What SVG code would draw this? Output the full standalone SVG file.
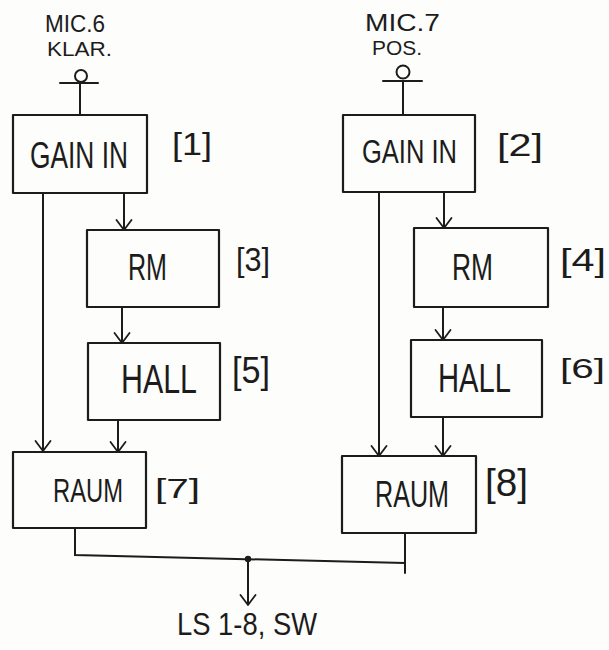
<svg xmlns="http://www.w3.org/2000/svg" width="609" height="650" viewBox="0 0 609 650">
  <style>
    .bg { fill: #fdfdfb; }
    .box { fill: none; stroke: #1c1c1c; stroke-width: 2.2; stroke-linejoin: round; }
    .ln { fill: none; stroke: #1c1c1c; stroke-width: 2; stroke-linecap: round; }
    .arr { fill: none; stroke: #1c1c1c; stroke-width: 2; marker-end: url(#ah); }
    .t { font-family: "Liberation Sans", Arial, sans-serif; fill: #1c1c1c; }
  </style>
  <defs>
    <marker id="ah" viewBox="-12 -9 14 18" refX="0" refY="0" markerWidth="14" markerHeight="18" markerUnits="userSpaceOnUse" orient="auto">
      <path d="M-10,-7.5 L0,0 L-10,7.5" fill="none" stroke="#1c1c1c" stroke-width="1.8" stroke-linecap="round" stroke-linejoin="round"/>
    </marker>
  </defs>
  <rect class="bg" x="0" y="0" width="609" height="650"/>

  <g id="mic6">
    <text class="t" x="45" y="32" font-size="24" textLength="60" lengthAdjust="spacingAndGlyphs">MIC.6</text>
    <text class="t" x="47" y="56" font-size="20" textLength="65" lengthAdjust="spacingAndGlyphs">KLAR.</text>
    <circle class="ln" cx="81" cy="76" r="6"/>
    <line class="ln" x1="60" y1="83" x2="98" y2="83"/>
    <line class="ln" x1="80" y1="83" x2="80" y2="115"/>
  </g>
  <g id="mic7">
    <text class="t" x="365" y="31" font-size="24" textLength="75" lengthAdjust="spacingAndGlyphs">MIC.7</text>
    <text class="t" x="372" y="55" font-size="20" textLength="50" lengthAdjust="spacingAndGlyphs">POS.</text>
    <circle class="ln" cx="403" cy="72" r="6.5"/>
    <line class="ln" x1="383" y1="81" x2="422" y2="81"/>
    <line class="ln" x1="403" y1="81" x2="403" y2="115"/>
  </g>

  <g id="gain1">
    <rect class="box" x="13" y="115" width="134" height="78"/>
    <text class="t" x="30" y="168" font-size="36" textLength="98" lengthAdjust="spacingAndGlyphs">GAIN IN</text>
    <text class="t" x="172" y="155" font-size="32" textLength="40" lengthAdjust="spacingAndGlyphs">[1]</text>
  </g>
  <g id="gain2">
    <rect class="box" x="343" y="115" width="132" height="77"/>
    <text class="t" x="362" y="163" font-size="34" textLength="95" lengthAdjust="spacingAndGlyphs">GAIN IN</text>
    <text class="t" x="497" y="156" font-size="32" textLength="46" lengthAdjust="spacingAndGlyphs">[2]</text>
  </g>
  <g id="rm3">
    <rect class="box" x="87" y="230" width="132" height="77"/>
    <text class="t" x="128" y="280" font-size="37" textLength="39" lengthAdjust="spacingAndGlyphs">RM</text>
    <text class="t" x="236" y="271" font-size="33" textLength="34" lengthAdjust="spacingAndGlyphs">[3]</text>
  </g>
  <g id="rm4">
    <rect class="box" x="414" y="228" width="134" height="79"/>
    <text class="t" x="452" y="280" font-size="37" textLength="41" lengthAdjust="spacingAndGlyphs">RM</text>
    <text class="t" x="560" y="271" font-size="32" textLength="46" lengthAdjust="spacingAndGlyphs">[4]</text>
  </g>
  <g id="hall5">
    <rect class="box" x="88" y="343" width="132" height="77"/>
    <text class="t" x="121" y="393" font-size="41" textLength="76" lengthAdjust="spacingAndGlyphs">HALL</text>
    <text class="t" x="232" y="383" font-size="36" textLength="38" lengthAdjust="spacingAndGlyphs">[5]</text>
  </g>
  <g id="hall6">
    <rect class="box" x="411" y="340" width="131" height="77"/>
    <text class="t" x="438" y="392" font-size="40" textLength="73" lengthAdjust="spacingAndGlyphs">HALL</text>
    <text class="t" x="560" y="378" font-size="28" textLength="45" lengthAdjust="spacingAndGlyphs">[6]</text>
  </g>
  <g id="raum7">
    <rect class="box" x="13" y="452" width="133" height="76"/>
    <text class="t" x="53" y="502" font-size="34" textLength="70" lengthAdjust="spacingAndGlyphs">RAUM</text>
    <text class="t" x="155" y="498" font-size="28" textLength="45" lengthAdjust="spacingAndGlyphs">[7]</text>
  </g>
  <g id="raum8">
    <rect class="box" x="342" y="456" width="134" height="77"/>
    <text class="t" x="375" y="507" font-size="36" textLength="74" lengthAdjust="spacingAndGlyphs">RAUM</text>
    <text class="t" x="485" y="496" font-size="38" textLength="43" lengthAdjust="spacingAndGlyphs">[8]</text>
  </g>
  <g id="out">
    <text class="t" x="177" y="635" font-size="32" textLength="140" lengthAdjust="spacingAndGlyphs">LS 1-8, SW</text>
  </g>

  <g id="connectors">
    <line class="arr" x1="43" y1="193" x2="43" y2="451"/>
    <line class="arr" x1="124" y1="193" x2="124" y2="230"/>
    <line class="arr" x1="122" y1="307" x2="122" y2="343"/>
    <line class="arr" x1="118" y1="420" x2="118" y2="452"/>
    <line class="arr" x1="379" y1="192" x2="379" y2="456"/>
    <line class="arr" x1="444" y1="192" x2="444" y2="228"/>
    <line class="arr" x1="443" y1="307" x2="443" y2="340"/>
    <line class="arr" x1="443" y1="417" x2="443" y2="456"/>
    <polyline class="ln" points="75,528 75,555 405,563"/>
    <line class="ln" x1="405" y1="533" x2="405" y2="573"/>
    <circle cx="248" cy="559" r="3.2" fill="#1c1c1c"/>
    <line class="arr" x1="248" y1="559" x2="248" y2="605"/>
  </g>
</svg>
